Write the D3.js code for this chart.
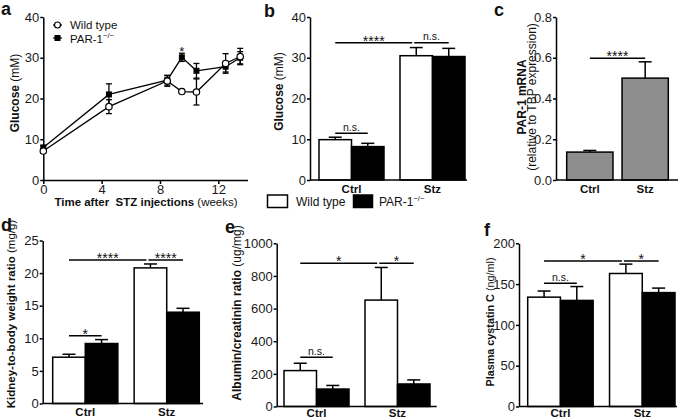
<!DOCTYPE html>
<html><head><meta charset="utf-8">
<script src="https://cdn.jsdelivr.net/npm/d3@7"></script>
<style>body{margin:0;background:#fff}svg{display:block}</style>
</head><body><svg id="c" width="685" height="420"></svg>
<script>
// ---------- DATA ----------
const groups = ["Ctrl", "Stz"];
const seriesNames = ["Wild type", "PAR-1"];

// panel a: glucose time course
const weeks = [0, 4.5, 8.5, 9.5, 10.5, 12.5, 13.5];
const wtGlucose = [7.1, 18.0, 24.3, 21.7, 21.6, 28.6, 30.3];
const wtGlucoseErr = [0.5, 1.7, 1.3, 0.5, 3.2, 2.4, 2.0];
const parGlucose = [8.0, 21.0, 24.5, 30.1, 26.8, 27.8, 30.0];
const parGlucoseErr = [0.4, 2.6, 1.2, 1.0, 1.8, 1.3, 1.5];
const weekTicks = [0, 4, 8, 12];
const glucoseTicks = [0, 10, 20, 30, 40];

// panel b: glucose
const glucoseWT = [9.9, 30.5], glucoseWTErr = [0.6, 2.0];
const glucosePAR = [8.2, 30.3], glucosePARErr = [0.8, 2.0];
// panel c: PAR-1 mRNA
const par1mRNA = [0.137, 0.50], par1mRNAErr = [0.008, 0.08];
const mrnaTicks = [0, 0.2, 0.4, 0.6, 0.8];
// panel d: kidney-to-body weight ratio
const kidneyWT = [7.1, 20.8], kidneyWTErr = [0.45, 0.6];
const kidneyPAR = [9.2, 14.0], kidneyPARErr = [0.6, 0.6];
const kidneyTicks = [0, 5, 10, 15, 20, 25];
// panel e: albumin/creatinin ratio
const acrWT = [220, 652], acrWTErr = [45, 200];
const acrPAR = [107, 138], acrPARErr = [22, 25];
const acrTicks = [0, 200, 400, 600, 800, 1000];
// panel f: plasma cystatin C
const cystWT = [134, 163], cystWTErr = [7.5, 11.5];
const cystPAR = [130, 139.6], cystPARErr = [17, 5.5];
const cystTicks = [0, 50, 100, 150, 200];

// significance annotations: [fromGroup, fromSeries, toGroup, toSeries, yValue, label]
const sigB = [["Ctrl",0,"Stz",0,33.7,"****"],["Stz",0,"Stz",1,33.7,"n.s."],["Ctrl",0,"Ctrl",1,11.5,"n.s."]];
const sigC = [["Ctrl",0,"Stz",0,0.597,"****"]];
const sigD = [["Ctrl",0,"Stz",0,22.0,"****"],["Stz",0,"Stz",1,22.0,"****"],["Ctrl",0,"Ctrl",1,10.4,"*"]];
const sigE = [["Ctrl",0,"Stz",0,878,"*"],["Stz",0,"Stz",1,878,"*"],["Ctrl",0,"Ctrl",1,302,"n.s."]];
const sigF = [["Ctrl",0,"Stz",0,178.4,"*"],["Stz",0,"Stz",1,178.4,"*"],["Ctrl",0,"Ctrl",1,151,"n.s."]];

// ---------- DRAWING ----------
const FONT = "'Liberation Sans', Arial, Helvetica, sans-serif";
const svg = d3.select("#c").style("font-family", FONT);
svg.append("rect").attr("width",685).attr("height",420).attr("fill","#fff");

function styleAxis(g) {
  g.selectAll(".domain").attr("stroke","#000").attr("stroke-width",1.5);
  g.selectAll(".tick line").attr("stroke","#000").attr("stroke-width",1.5);
  g.selectAll(".tick text").attr("fill","#1a1a1a").style("font-size","13px").style("font-family",FONT);
}

function panelLetter(t, x, y) {
  svg.append("text").attr("x",x).attr("y",y).text(t)
    .style("font-size","18px").style("font-weight","bold").attr("fill","#111");
}

function yTitle(x, yc, bold, normal, size) {
  const t = svg.append("text").attr("transform",`translate(${x},${yc}) rotate(-90)`)
    .attr("text-anchor","middle").style("font-size",(size||11.5)+"px").attr("fill","#111");
  if (bold) t.append("tspan").style("font-weight","bold").text(bold);
  if (normal) t.append("tspan").style("font-weight","normal").text((bold ? " " : "") + normal);
  return t;
}

// ---- panel a ----
(function(){
  const x = d3.scaleLinear().domain([0,14]).range([43.3,247.5]);
  const y = d3.scaleLinear().domain([0,40]).range([180,17]);
  const g = svg.append("g");
  g.append("g").attr("transform","translate(43.3,0)")
    .call(d3.axisLeft(y).tickValues(glucoseTicks).tickSize(3).tickSizeOuter(0).tickPadding(1)).call(styleAxis);
  g.append("g").attr("transform","translate(0,180)")
    .call(d3.axisBottom(x).tickValues(weekTicks).tickSize(4).tickSizeOuter(0).tickPadding(1)).call(styleAxis);

  const sets = [
    {v: parGlucose, e: parGlucoseErr, type:"square"},
    {v: wtGlucose, e: wtGlucoseErr, type:"circle"}
  ];
  sets.forEach(s => {
    const pts = weeks.map((w,i)=>({w, v:s.v[i], e:s.e[i]}));
    g.append("path").datum(pts).attr("fill","none").attr("stroke","#000").attr("stroke-width",1.3)
      .attr("d", d3.line().x(d=>x(d.w)).y(d=>y(d.v)));
    const eb = g.append("g").selectAll("g").data(pts).join("g");
    eb.append("line").attr("x1",d=>x(d.w)).attr("x2",d=>x(d.w)).attr("y1",d=>y(d.v-d.e)).attr("y2",d=>y(d.v+d.e)).attr("stroke","#000").attr("stroke-width",1.3);
    eb.append("line").attr("x1",d=>x(d.w)-3).attr("x2",d=>x(d.w)+3).attr("y1",d=>y(d.v+d.e)).attr("y2",d=>y(d.v+d.e)).attr("stroke","#000").attr("stroke-width",1.3);
    eb.append("line").attr("x1",d=>x(d.w)-3).attr("x2",d=>x(d.w)+3).attr("y1",d=>y(d.v-d.e)).attr("y2",d=>y(d.v-d.e)).attr("stroke","#000").attr("stroke-width",1.3);
    if (s.type === "circle") {
      g.append("g").selectAll("circle").data(pts).join("circle")
        .attr("cx",d=>x(d.w)).attr("cy",d=>y(d.v)).attr("r",3.2)
        .attr("fill","#fff").attr("stroke","#000").attr("stroke-width",1.2);
    } else {
      g.append("g").selectAll("rect").data(pts).join("rect")
        .attr("x",d=>x(d.w)-3).attr("y",d=>y(d.v)-3).attr("width",6).attr("height",6).attr("fill","#000");
    }
  });
  // significance star at week 9.5
  g.append("text").attr("x",x(weeks[3])).attr("y",y(parGlucose[3]+parGlucoseErr[3])+3).attr("text-anchor","middle")
    .style("font-size","13px").attr("fill","#111").text("*");

  // legend
  const lg = g.append("g");
  lg.append("line").attr("x1",53).attr("x2",62).attr("y1",25).attr("y2",25).attr("stroke","#000").attr("stroke-width",1.2);
  lg.append("circle").attr("cx",57.5).attr("cy",25).attr("r",3).attr("fill","#fff").attr("stroke","#000").attr("stroke-width",1.2);
  lg.append("text").attr("x",70).attr("y",29).style("font-size","11.5px").attr("fill","#111").text(seriesNames[0]);
  lg.append("line").attr("x1",53).attr("x2",62).attr("y1",38).attr("y2",38).attr("stroke","#000").attr("stroke-width",1.2);
  lg.append("rect").attr("x",54.5).attr("y",35).attr("width",6).attr("height",6).attr("fill","#000");
  const t2 = lg.append("text").attr("x",70).attr("y",42.5).style("font-size","11.5px").attr("fill","#111");
  t2.append("tspan").text(seriesNames[1]);
  t2.append("tspan").attr("dy",-5).style("font-size","7.5px").text("−/−");

  // axis titles
  yTitle(18.5, 93, "Glucose", "(mM)", 12);
  const xt = svg.append("text").attr("x",146).attr("y",206).attr("text-anchor","middle").style("font-size","11.5px").attr("fill","#111").attr("xml:space","preserve");
  xt.append("tspan").style("font-weight","bold").text("Time after  STZ injections");
  xt.append("tspan").text(" (weeks)");
  panelLetter("a", 1, 15);
})();

// ---- generic bar panel ----
function barPanel(p) {
  const g = svg.append("g");
  const y = d3.scaleLinear().domain([0, p.yMax]).range([p.y0, p.yTop]);
  const x0 = d3.scaleBand().domain(groups).range(p.barRange).paddingInner(p.pi).paddingOuter(0);
  const x1 = d3.scaleBand().domain(d3.range(p.series.length)).range([0, x0.bandwidth()]).padding(0);
  const cx = (gname, si) => x0(gname) + x1(si) + x1.bandwidth()/2;

  const items = [];
  p.series.forEach((s, si) => groups.forEach((gname, gi) =>
    items.push({g:gname, si, v:s.values[gi], e:s.errs[gi], fill:s.fill})));

  const eb = g.append("g").selectAll("g").data(items).join("g");
  eb.append("line").attr("x1",d=>cx(d.g,d.si)).attr("x2",d=>cx(d.g,d.si))
    .attr("y1",d=>y(d.v)).attr("y2",d=>y(d.v+d.e)).attr("stroke","#000").attr("stroke-width",1.5);
  eb.append("line").attr("x1",d=>cx(d.g,d.si)-p.cap).attr("x2",d=>cx(d.g,d.si)+p.cap)
    .attr("y1",d=>y(d.v+d.e)).attr("y2",d=>y(d.v+d.e)).attr("stroke","#000").attr("stroke-width",1.5);
  g.append("g").selectAll("rect").data(items).join("rect")
    .attr("x",d=>x0(d.g)+x1(d.si)).attr("width",x1.bandwidth())
    .attr("y",d=>y(d.v)).attr("height",d=>y(0)-y(d.v))
    .attr("fill",d=>d.fill).attr("stroke","#000").attr("stroke-width",1.5);

  // axes
  g.append("g").attr("transform",`translate(${p.ox},0)`)
    .call(d3.axisLeft(y).tickValues(p.ticks).tickFormat(p.fmt || d3.format("d")).tickSize(3).tickSizeOuter(0).tickPadding(1))
    .call(styleAxis);
  g.append("line").attr("x1",p.ox).attr("x2",p.xEnd).attr("y1",p.y0).attr("y2",p.y0).attr("stroke","#000").attr("stroke-width",1.5);
  const xa = g.append("g").attr("transform",`translate(0,${p.y0})`)
    .call(d3.axisBottom(x0).tickSize(0).tickPadding(p.catPad));
  xa.select(".domain").remove();
  xa.selectAll(".tick text").style("font-size","11.5px").style("font-weight","bold").attr("fill","#111").style("font-family",FONT);

  // significance
  const sg = g.append("g").selectAll("g").data(p.sig).join("g");
  sg.each(function(s){
    const [g1,s1,g2,s2,val,label] = s;
    let xa1 = cx(g1,s1), xa2 = cx(g2,s2);
    const joinLeft = p.sig.some(o => o !== s && o[0]===g2 && o[1]===s2 && o[4]===val);
    const joinRight = p.sig.some(o => o !== s && o[2]===g1 && o[3]===s1 && o[4]===val);
    if (joinLeft) xa2 -= 4;
    if (joinRight) xa1 -= 2;
    const yy = y(val);
    const sel = d3.select(this);
    sel.append("line").attr("x1",xa1).attr("x2",xa2).attr("y1",yy).attr("y2",yy).attr("stroke","#000").attr("stroke-width",1.5);
    const isStar = label.indexOf("*") === 0;
    sel.append("text").attr("x",(xa1+xa2)/2).attr("y", isStar ? yy+3 : yy-2.5)
      .attr("text-anchor","middle").style("font-size", isStar ? "14px" : "10.5px")
      .attr("fill","#111").text(label);
  });
  return g;
}

// ---- panel b ----
barPanel({ox:310, xEnd:467, y0:180, yTop:17, yMax:40, ticks:glucoseTicks,
  barRange:[319,465], pi:0.1975, cap:6.5, catPad:5,
  series:[{values:glucoseWT, errs:glucoseWTErr, fill:"#fff"},{values:glucosePAR, errs:glucosePARErr, fill:"#000"}],
  sig:sigB});
yTitle(283, 91.5, "Glucose", "(mM)", 12);
panelLetter("b", 264, 17);
// legend below b
(function(){
  const lg = svg.append("g");
  lg.append("rect").attr("x",267.5).attr("y",195).attr("width",20).attr("height",12.5).attr("fill","#fff").attr("stroke","#000").attr("stroke-width",1.5);
  lg.append("text").attr("x",296).attr("y",206).style("font-size","12px").attr("fill","#111").text(seriesNames[0]);
  lg.append("rect").attr("x",353.5).attr("y",195).attr("width",19).attr("height",12.5).attr("fill","#000").attr("stroke","#000").attr("stroke-width",1.5);
  const t = lg.append("text").attr("x",379).attr("y",206).style("font-size","12px").attr("fill","#111");
  t.append("tspan").text(seriesNames[1]);
  t.append("tspan").attr("dy",-5).style("font-size","7.5px").text("−/−");
})();

// ---- panel c ----
barPanel({ox:556, xEnd:678, y0:180, yTop:17, yMax:0.8, ticks:mrnaTicks, fmt:d3.format(".1f"),
  barRange:[566.7,668.3], pi:0.164, cap:6.5, catPad:5,
  series:[{values:par1mRNA, errs:par1mRNAErr, fill:"#8e8e8e"}],
  sig:sigC});
yTitle(525.5, 97, "PAR-1 mRNA", null, 12);
yTitle(535.5, 97, null, "(relative to TBP expression)", 12);
panelLetter("c", 494, 16);

// ---- panel d ----
barPanel({ox:42.7, xEnd:203, y0:403.5, yTop:240.5, yMax:25, ticks:kidneyTicks,
  barRange:[52.7,199.3], pi:0.2, cap:6.5, catPad:4.5,
  series:[{values:kidneyWT, errs:kidneyWTErr, fill:"#fff"},{values:kidneyPAR, errs:kidneyPARErr, fill:"#000"}],
  sig:sigD});
yTitle(14.5, 314, "Kidney-to-body weight ratio", "(mg/g)", 11.5);
panelLetter("d", 1, 231);

// ---- panel e ----
barPanel({ox:276.7, xEnd:436.7, y0:406.5, yTop:243.3, yMax:1000, ticks:acrTicks,
  barRange:[284,430], pi:0.1975, cap:6.5, catPad:2,
  series:[{values:acrWT, errs:acrWTErr, fill:"#fff"},{values:acrPAR, errs:acrPARErr, fill:"#000"}],
  sig:sigE});
yTitle(241, 313, "Albumin/creatinin ratio", "(ug/mg)", 12);
panelLetter("e", 225, 233);

// ---- panel f ----
barPanel({ox:519, xEnd:677, y0:406.5, yTop:243.3, yMax:200, ticks:cystTicks,
  barRange:[527.7,675], pi:0.2, cap:6.5, catPad:2,
  series:[{values:cystWT, errs:cystWTErr, fill:"#fff"},{values:cystPAR, errs:cystPARErr, fill:"#000"}],
  sig:sigF});
yTitle(493.5, 322, "Plasma cystatin C", "(ng/ml)", 10.8);
panelLetter("f", 484, 236);
</script></body></html>
